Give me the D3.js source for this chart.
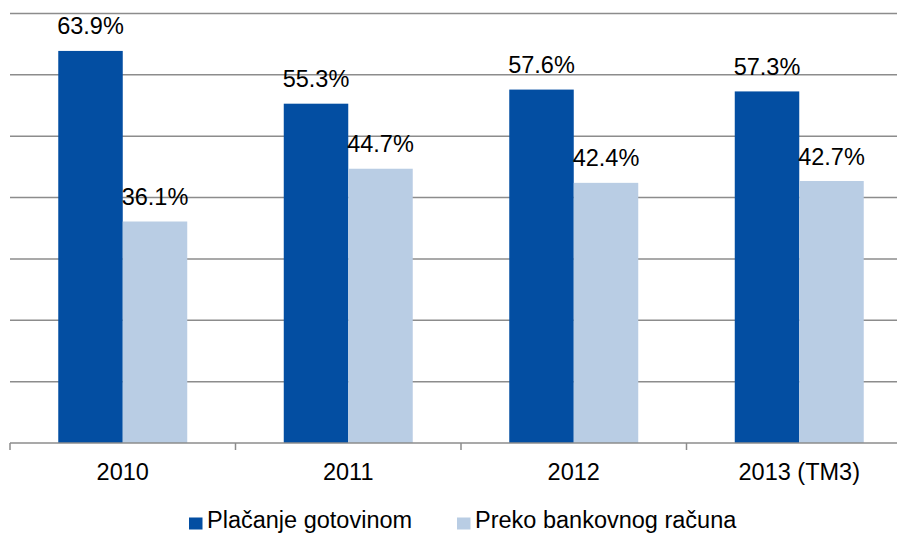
<!DOCTYPE html>
<html>
<head>
<meta charset="utf-8">
<script src="https://cdn.jsdelivr.net/npm/d3@7"></script>
<style>
  html, body { margin: 0; padding: 0; background: #fff; }
  svg { display: block; font-family: "Liberation Sans", Arial, sans-serif; }
</style>
</head>
<body>
<svg id="chart"></svg>
<script>
const categories = ["2010", "2011", "2012", "2013 (TM3)"];
const seriesNames = ["Plačanje gotovinom", "Preko bankovnog računa"];
const cash = [63.9, 55.3, 57.6, 57.3];
const bank = [36.1, 44.7, 42.4, 42.7];
const yTicks = [0, 10, 20, 30, 40, 50, 60, 70];
const colors = ["#034ea2", "#b9cde4"];

const width = 897, height = 533;
const svg = d3.select("#chart").attr("width", width).attr("height", height);

const plotLeft = 10, plotRight = 912, plotTop = 13.5, plotBottom = 443;

const x = d3.scaleBand().domain(categories).range([plotLeft, plotRight]).padding(0);
const groupW = x.bandwidth() * 0.572;
const xs = d3.scaleBand().domain([0, 1]).range([0, groupW]).padding(0);
const y = d3.scaleLinear().domain([0, 70]).range([plotBottom, plotTop]);

// gridlines
svg.append("g")
  .selectAll("line")
  .data(yTicks.filter(t => t > 0))
  .join("line")
  .attr("x1", plotLeft).attr("x2", width)
  .attr("y1", d => y(d)).attr("y2", d => y(d))
  .attr("stroke", "#8c8c8c").attr("stroke-width", 1.5);

const rows = categories.map((c, i) => ({ cat: c, vals: [cash[i], bank[i]] }));

const groups = svg.append("g").selectAll("g")
  .data(rows)
  .join("g")
  .attr("transform", d => `translate(${x(d.cat) + (x.bandwidth() - groupW) / 2},0)`);

groups.selectAll("rect")
  .data(d => d.vals.map((v, k) => ({ v, k })))
  .join("rect")
  .attr("x", d => xs(d.k))
  .attr("width", xs.bandwidth())
  .attr("y", d => y(d.v))
  .attr("height", d => plotBottom - y(d.v))
  .attr("fill", d => colors[d.k]);

groups.selectAll("text")
  .data(d => d.vals.map((v, k) => ({ v, k })))
  .join("text")
  .attr("x", d => xs(d.k) + xs.bandwidth() / 2)
  .attr("y", d => y(d.v) - 16.5)
  .attr("text-anchor", "middle")
  .attr("font-size", "23.5px")
  .attr("fill", "#000")
  .text(d => d.v.toFixed(1) + "%");

// x axis
const xAxis = svg.append("g").attr("transform", `translate(0,${plotBottom})`);
xAxis.append("line")
  .attr("x1", plotLeft).attr("x2", width)
  .attr("stroke", "#8c8c8c").attr("stroke-width", 1.5);
xAxis.selectAll("line.tick")
  .data(categories)
  .join("line")
  .attr("class", "tick")
  .attr("x1", d => x(d)).attr("x2", d => x(d))
  .attr("y1", 0).attr("y2", 7)
  .attr("stroke", "#8c8c8c").attr("stroke-width", 1.5);
xAxis.selectAll("text")
  .data(categories)
  .join("text")
  .attr("x", d => x(d) + x.bandwidth() / 2)
  .attr("y", 37)
  .attr("text-anchor", "middle")
  .attr("font-size", "23.5px")
  .attr("fill", "#000")
  .text(d => d);

// legend
const legendX = [189, 457];
const legend = svg.append("g").selectAll("g")
  .data(seriesNames)
  .join("g")
  .attr("transform", (d, i) => `translate(${legendX[i]},528)`);
legend.append("rect")
  .attr("x", 0).attr("y", -10.5)
  .attr("width", 13.5).attr("height", 12)
  .attr("fill", (d, i) => colors[i]);
legend.append("text")
  .attr("x", 18).attr("y", 0)
  .attr("font-size", "23.5px")
  .attr("fill", "#000")
  .text(d => d);
</script>
</body>
</html>
